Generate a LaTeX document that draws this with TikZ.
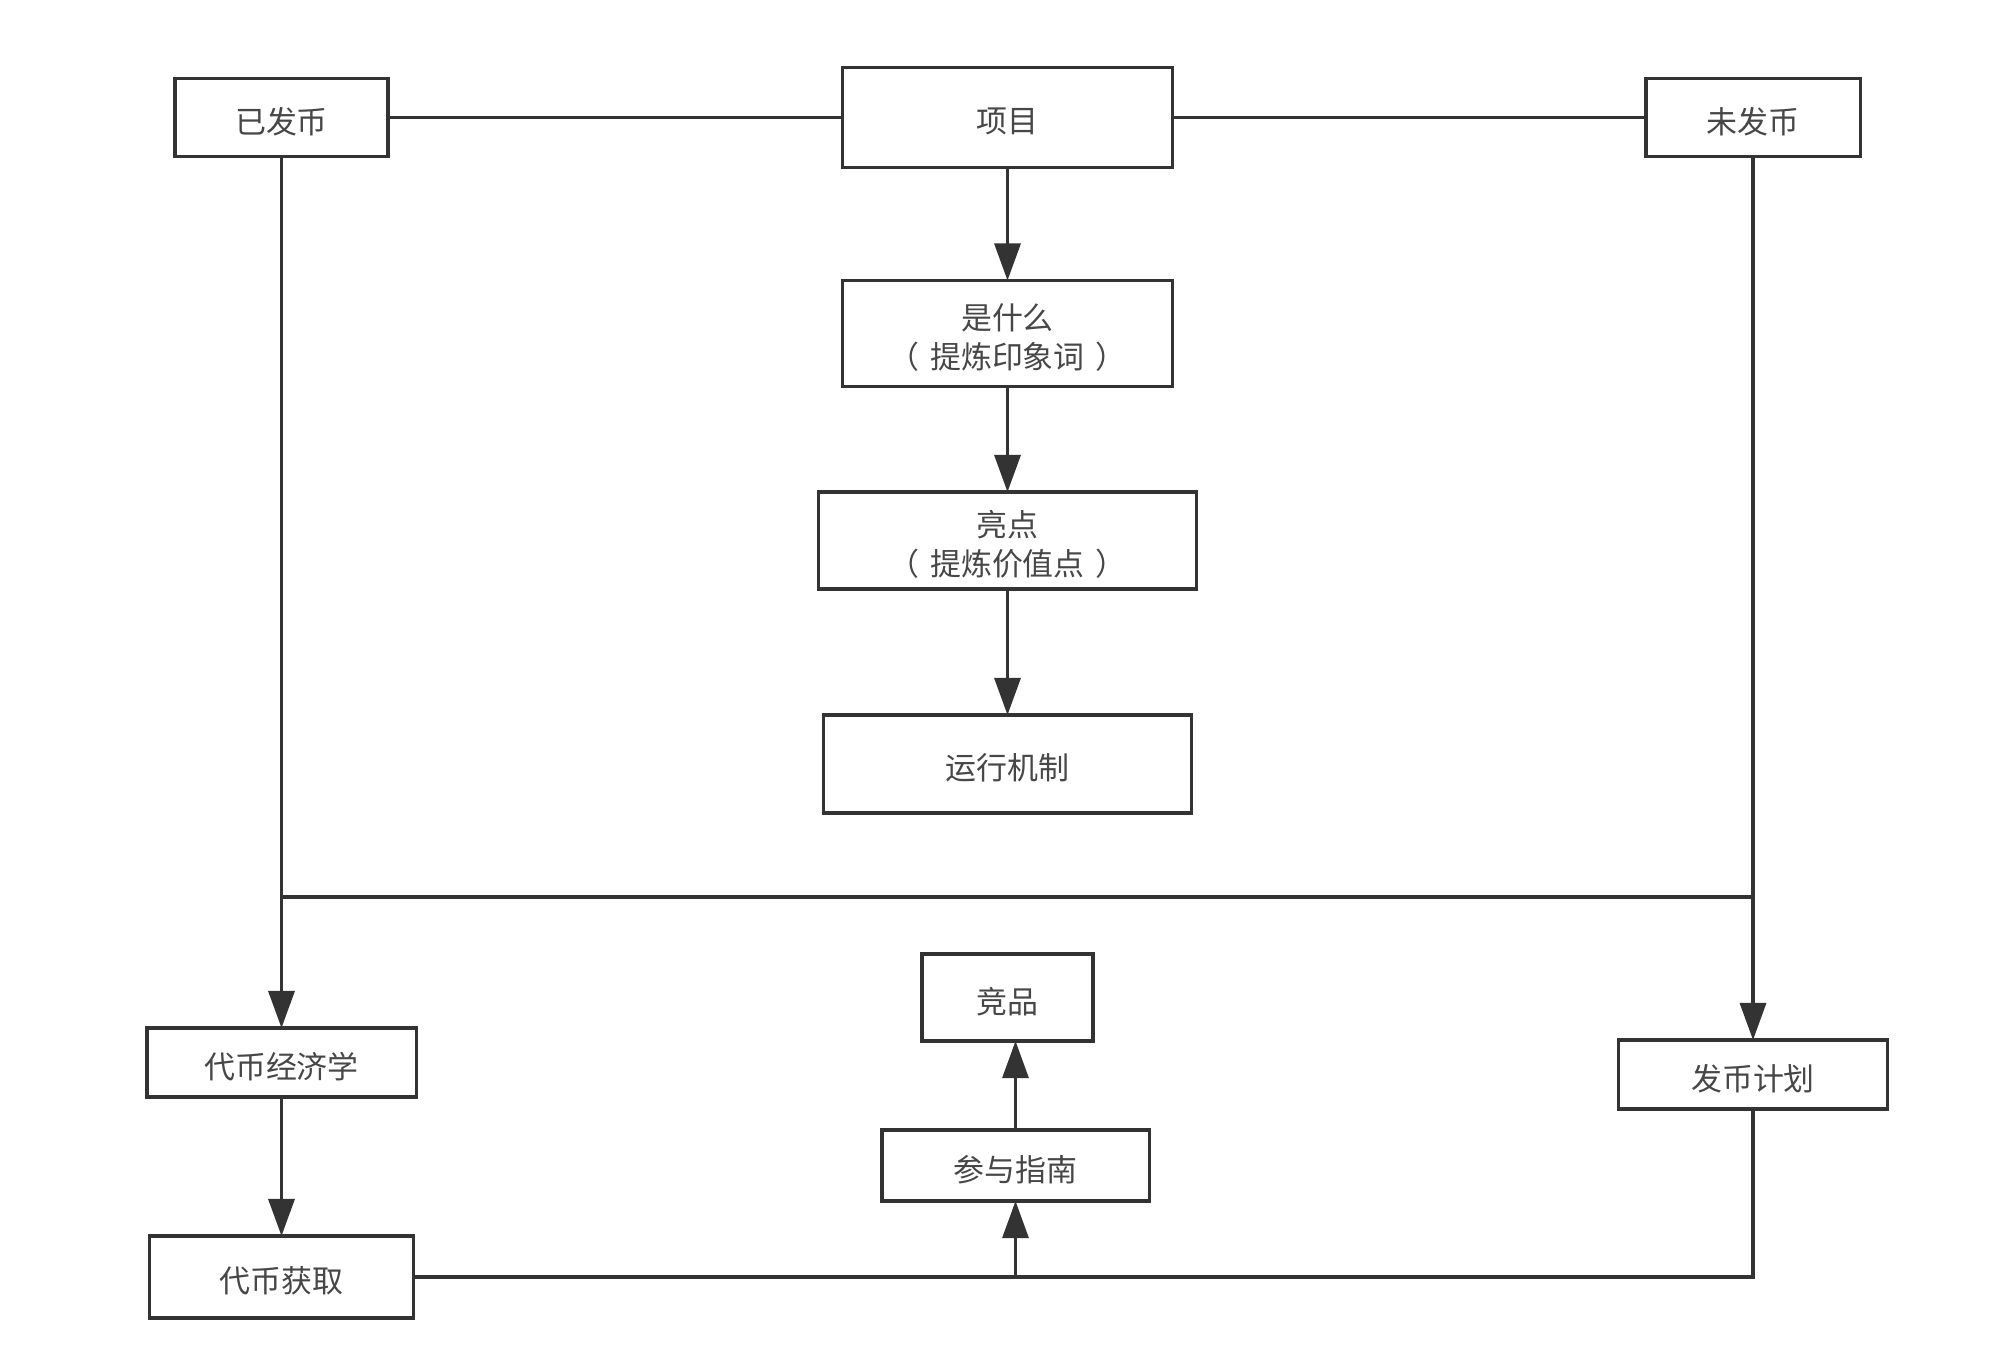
\documentclass[tikz,border=0pt]{standalone}
\usepackage{fontspec}
\setmainfont{Noto Sans CJK SC}
\usetikzlibrary{arrows.meta}
\definecolor{linec}{HTML}{333333}
\definecolor{textc}{HTML}{474747}
\tikzset{
  box/.style={draw=linec, line width=0.9pt, fill=white, inner sep=0pt, outer sep=0pt},
  lbl/.style={text=textc, font=\fontsize{8.8pt}{11pt}\selectfont, align=center,
    inner sep=0pt, yshift=-0.04cm},
  conn/.style={draw=linec, line width=0.9pt},
  arr/.style={conn, -{Triangle[length=0.37cm, width=0.26cm]}}
}
\newcommand\pgap{\hspace{0.35em}}
\begin{document}
\begin{tikzpicture}[x=0.01cm, y=-0.01cm]
\useasboundingbox (0,0) rectangle (2000,1362);
\node[box, minimum width=2.13cm, minimum height=0.78cm, label={[lbl]center:已发币}] (yifa) at (281.5,117.5) {};
\node[box, minimum width=3.29cm, minimum height=1.00cm, label={[lbl]center:项目}] (xiangmu) at (1007.5,117.5) {};
\node[box, minimum width=2.14cm, minimum height=0.78cm, label={[lbl]center:未发币}] (weifa) at (1753,117.5) {};
\node[box, minimum width=3.29cm, minimum height=1.06cm, label={[lbl]center:{是什么\\（\pgap 提炼印象词\pgap ）}}] (shi) at (1007.5,333.5) {};
\node[box, minimum width=3.77cm, minimum height=0.97cm, label={[lbl]center:{亮点\\（\pgap 提炼价值点\pgap ）}}] (liang) at (1007.5,540.5) {};
\node[box, minimum width=3.68cm, minimum height=0.98cm, label={[lbl]center:运行机制}] (yunxing) at (1007.5,764) {};
\node[box, minimum width=2.69cm, minimum height=0.69cm, label={[lbl]center:代币经济学}] (jingji) at (281.5,1062.5) {};
\node[box, minimum width=2.64cm, minimum height=0.82cm, label={[lbl]center:代币获取}] (huoqu) at (281.5,1277) {};
\node[box, minimum width=1.71cm, minimum height=0.87cm, label={[lbl]center:竞品}] (jingpin) at (1007.5,997.5) {};
\node[box, minimum width=2.67cm, minimum height=0.71cm, label={[lbl]center:参与指南}] (canyu) at (1015.5,1165.5) {};
\node[box, minimum width=2.69cm, minimum height=0.69cm, label={[lbl]center:发币计划}] (faji) at (1753,1074.5) {};

\coordinate (hl) at (281.5,897);
\coordinate (hr) at (1753,897);
\coordinate (j) at (1015.5,1277);

\draw[conn] (yifa) -- (xiangmu);
\draw[conn] (xiangmu) -- (weifa);
\draw[arr] (xiangmu) -- (shi);
\draw[arr] (shi) -- (liang);
\draw[arr] (liang) -- (yunxing);
\draw[arr] (yifa) -- (jingji);
\draw[arr] (weifa) -- (faji);
\draw[conn] (hl) -- (hr);
\draw[arr] (jingji) -- (huoqu);
\draw[conn] (huoqu.east) -- (j);
\draw[conn] (faji.south) |- (j);
\draw[arr] (j) -- (canyu.south);
\draw[arr] (canyu.north) -- (canyu.north |- jingpin.south);
\end{tikzpicture}
\end{document}
